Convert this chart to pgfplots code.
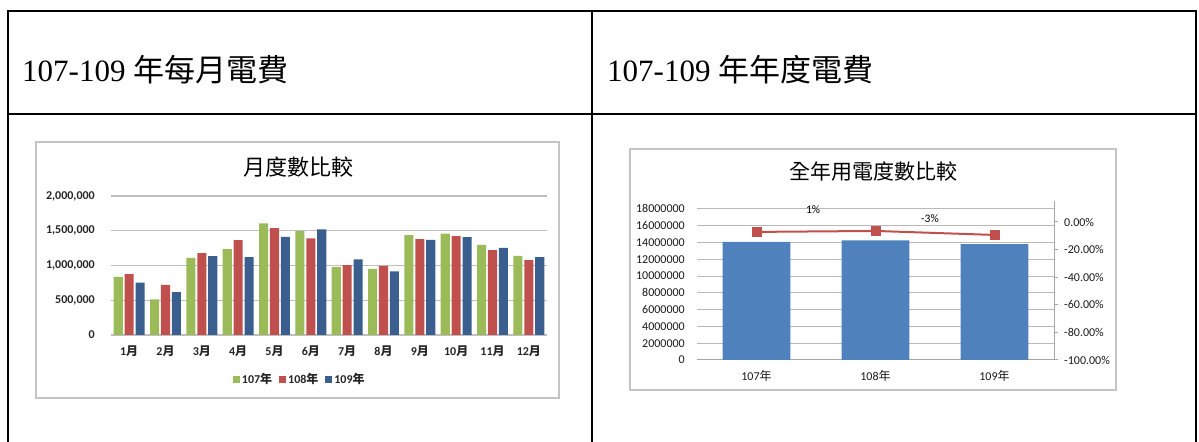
\documentclass[border=0pt]{standalone}
\usepackage{fontspec}
\setmainfont{Liberation Serif}
\newfontfamily\calf{Carlito}
\newfontfamily\cjk{Noto Sans CJK TC}
\usepackage{pgfplots}
\usepackage{pgfplotstable}
\pgfplotsset{compat=1.18}
\definecolor{cg}{HTML}{9BBB59}
\definecolor{cr}{HTML}{C0504D}
\definecolor{cb}{HTML}{3A5F8F}
\definecolor{cb2}{HTML}{4F81BD}
\definecolor{gridc}{HTML}{BFBFBF}
\definecolor{framec}{HTML}{C4C4C4}
\newcommand\M{{\cjk 月}}
\newcommand\Y{{\cjk 年}}
\newcommand\fs[1]{\fontsize{#1bp}{#1bp}\selectfont}

\pgfplotstableread{
x a b c
0 835000 875000 752000
1 514000 720000 617000
2 1110000 1177000 1136000
3 1237000 1366000 1122000
4 1605000 1536000 1411000
5 1495000 1390000 1519000
6 978000 1005000 1088000
7 950000 996000 916000
8 1438000 1380000 1368000
9 1460000 1424000 1407000
10 1295000 1220000 1254000
11 1139000 1076000 1122000
}\monthly

\pgfplotstableread{
x v
0 14060000
1 14250000
2 13800000
}\annual

\pgfplotstableread{
x p
0 -7.2
1 -6.5
2 -9.4
}\ratio

\begin{document}
\begin{tikzpicture}
\path[use as bounding box] (0,0) rectangle (1199bp,442bp);
% table lines
\draw[line width=2bp] (7bp,431bp) -- (1197bp,431bp);
\draw[line width=2bp] (7bp,328bp) -- (1197bp,328bp);
\draw[line width=2bp] (8bp,432bp) -- (8bp,0bp);
\draw[line width=2bp] (592bp,432bp) -- (592bp,0bp);
\draw[line width=2bp] (1196bp,432bp) -- (1196bp,0bp);
\node[anchor=base west, inner sep=0pt, font=\fs{31}] at (22bp,360bp) {107-109 {\cjk 年每月電費}};
\node[anchor=base west, inner sep=0pt, font=\fs{31}] at (607bp,360bp) {107-109 {\cjk 年年度電費}};

% chart frames
\draw[framec, line width=1.5bp] (36bp,44bp) rectangle (559bp,300bp);
\draw[framec, line width=1.5bp] (630bp,52bp) rectangle (1116bp,293bp);

% chart 1 title
\node[font=\cjk\fs{22}] at (298bp,275bp) {月度數比較};
% chart 2 title
\node[font=\cjk\fs{21}] at (873bp,270bp) {全年用電度數比較};

\begin{axis}[
  at={(111bp,107bp)}, anchor=south west,
  scale only axis, width=436bp, height=139bp,
  xmin=-0.5, xmax=11.5, ymin=0, ymax=2000000,
  scaled y ticks=false,
  ybar, bar width=0.25,
  axis x line*=bottom, axis y line*=left,
  x axis line style={draw=gridc, line width=1.2bp, -},
  y axis line style={draw=none},
  ymajorgrids, grid style={gridc, line width=1.2bp},
  major tick length=0pt,
  xtick={0,...,11},
  xticklabels={1\M,2\M,3\M,4\M,5\M,6\M,7\M,8\M,9\M,10\M,11\M,12\M},
  ytick={0,500000,1000000,1500000,2000000},
  yticklabels={0,{500,000},{1,000,000},{1,500,000},{2,000,000}},
  tick label style={font=\calf\bfseries\fs{12}, text=black!85, inner sep=0pt},
  yticklabel style={xshift=-16bp},
  xticklabel style={yshift=-11bp},
  legend columns=3,
  legend image code/.code={\fill[#1] (0bp,-3.5bp) rectangle (7bp,3.5bp);},
  legend style={draw=none, fill=none, at={(0.433,-0.317)}, anchor=center,
    font=\calf\bfseries\fs{12}, text=black!85,
    /tikz/every even column/.append style={column sep=5bp}},
]
\addplot[fill=cg, draw=none, bar shift=-0.3] table[x=x,y=a]{\monthly};
\addplot[fill=cr, draw=none, bar shift=0] table[x=x,y=b]{\monthly};
\addplot[fill=cb, draw=none, bar shift=0.3] table[x=x,y=c]{\monthly};
\legend{107\Y,108\Y,109\Y}
\end{axis}

\begin{axis}[
  at={(697bp,82bp)}, anchor=south west,
  scale only axis, width=357bp, height=159bp,
  xmin=-0.5, xmax=2.5, ymin=0, ymax=18930000,
  scaled y ticks=false,
  axis x line*=bottom, axis y line*=left,
  x axis line style={draw=gray!70, line width=1bp, -},
  y axis line style={draw=none},
  ymajorgrids, grid style={gray!55, line width=1bp},
  major tick length=0pt,
  xtick={0,1,2}, xticklabels={107\Y,108\Y,109\Y},
  ytick={0,2000000,4000000,6000000,8000000,10000000,12000000,14000000,16000000,18000000},
  yticklabels={0,2000000,4000000,6000000,8000000,10000000,12000000,14000000,16000000,18000000},
  tick label style={font=\calf\fs{12}, text=black!90, inner sep=0pt},
  yticklabel style={xshift=-12bp},
  xticklabel style={yshift=-10bp},
]
\addplot[ybar, bar width=0.57, fill=cb2, draw=none] table[x=x,y=v]{\annual};
\node[font=\calf\fs{11.5}] at (axis cs:0.475,17860000) {1\%};
\node[font=\calf\fs{11.5}] at (axis cs:1.458,16800000) {-3\%};
\end{axis}

\begin{axis}[
  at={(697bp,82bp)}, anchor=south west,
  scale only axis, width=357bp, height=159bp,
  xmin=-0.5, xmax=2.5, ymin=-100, ymax=15.2,
  axis x line=none, axis y line*=right,
  y axis line style={draw=gray!70, line width=1bp, -},
  tick align=outside, major tick length=4bp,
  ytick style={draw=gray!70, line width=1bp},
  ytick={-100,-80,-60,-40,-20,0},
  yticklabels={-100.00\%,-80.00\%,-60.00\%,-40.00\%,-20.00\%,0.00\%},
  tick label style={font=\calf\fs{12}, text=black!90, inner sep=0pt},
  yticklabel style={anchor=west, xshift=6bp},
]
\addplot[cr, line width=2bp, mark=square*, mark size=4bp, mark options={fill=cr, solid}] table[x=x,y=p]{\ratio};
\end{axis}
\end{tikzpicture}
\end{document}
